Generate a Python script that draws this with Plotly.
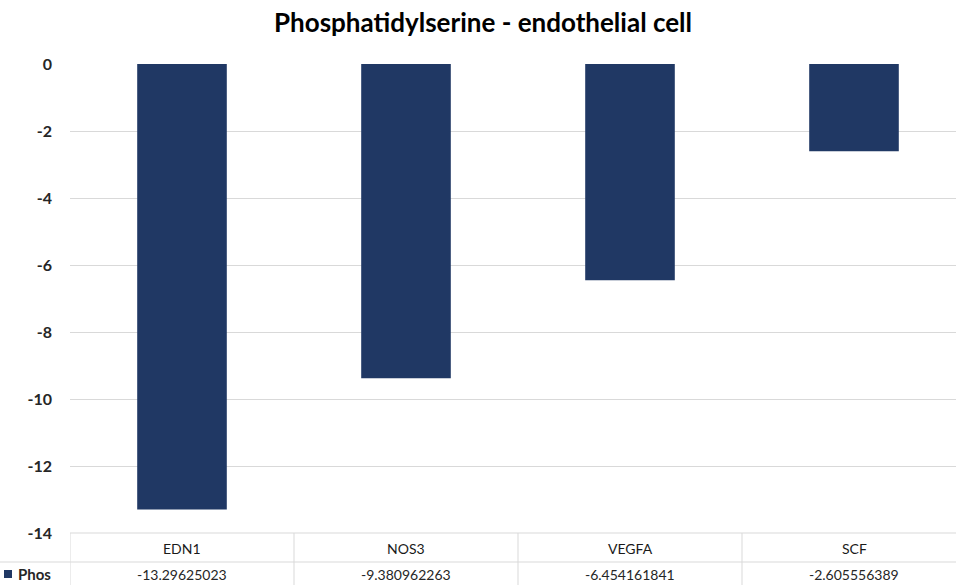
import plotly.graph_objects as go

categories = ["EDN1", "NOS3", "VEGFA", "SCF"]
values = [-13.29625023, -9.380962263, -6.454161841, -2.605556389]
series_name = "Phos"
title_text = "Phosphatidylserine - endothelial cell"
y_ticks = [0, -2, -4, -6, -8, -10, -12, -14]

BAR_COLOR = "#203864"
GRID = "#d9d9d9"
TXT = "#262626"
FONT = "Lato"

W, H = 956, 585
ML, MR, MT, MB = 70, 0, 64, 52
PW = W - ML - MR
PH = H - MT - MB

xs = list(range(len(categories)))
fig = go.Figure()
fig.add_trace(go.Bar(x=xs, y=values, width=0.4, marker=dict(color=BAR_COLOR, line=dict(width=0)),
                     name=series_name, showlegend=False))

def py(pix):  # pixel y -> paper y
    return (H - MB - pix) / PH

def px(pix):  # pixel x -> paper x
    return (pix - ML) / PW

shapes = []
annotations = []
# table horizontal lines
shapes.append(dict(type="line", xref="paper", yref="paper", x0=0, x1=1, y0=0, y1=0,
                   line=dict(color=GRID, width=1)))
shapes.append(dict(type="line", xref="paper", yref="paper", x0=px(0), x1=1, y0=py(562), y1=py(562),
                   line=dict(color=GRID, width=1)))
# table vertical lines
for i in range(len(categories)):
    shapes.append(dict(type="line", xref="x", yref="paper", x0=i - 0.5, x1=i - 0.5,
                       y0=0, y1=py(H + 2), line=dict(color=GRID, width=1)))
# legend key
shapes.append(dict(type="rect", xref="paper", yref="paper", x0=px(4), x1=px(12),
                   y0=py(578), y1=py(570), fillcolor=BAR_COLOR, line=dict(width=0)))
annotations.append(dict(text="<b>" + series_name + "</b>", xref="paper", yref="paper",
                        x=px(16), y=py(574), xanchor="left", yanchor="middle", showarrow=False,
                        font=dict(family=FONT, size=15, color=TXT)))
for i, (c, v) in enumerate(zip(categories, values)):
    annotations.append(dict(text=c, xref="x", yref="paper", x=i, y=py(548), showarrow=False,
                            xanchor="center", yanchor="middle",
                            font=dict(family=FONT, size=14, color="#1a1a1a")))
    annotations.append(dict(text=f"{v:.10g}", xref="x", yref="paper", x=i, y=py(574), showarrow=False,
                            xanchor="center", yanchor="middle",
                            font=dict(family=FONT, size=14, color=TXT)))

fig.update_layout(
    width=W, height=H,
    margin=dict(l=ML, r=MR, t=MT, b=MB),
    paper_bgcolor="white", plot_bgcolor="white",
    title=dict(text="<b>" + title_text + "</b>", x=(483) / W, xanchor="center",
               y=1 - 23 / H, yanchor="middle", font=dict(family=FONT, size=26, color="#000000")),
    xaxis=dict(range=[-0.5, -0.5 + PW / 224.0], showticklabels=False, showgrid=False,
               zeroline=False, showline=False, fixedrange=True),
    yaxis=dict(range=[-14, 0], tickvals=y_ticks, ticktext=["<b>%d</b>" % t for t in y_ticks],
               showgrid=True, gridcolor=GRID, gridwidth=1, zeroline=False, showline=False,
               ticklabelstandoff=17, tickfont=dict(family=FONT, size=16, color=TXT)),
    shapes=shapes, annotations=annotations, bargap=0.6,
)
fig.write_html("out.html", config={"displayModeBar": False},
               post_script="document.body.style.margin='0';document.body.style.overflow='hidden';")
